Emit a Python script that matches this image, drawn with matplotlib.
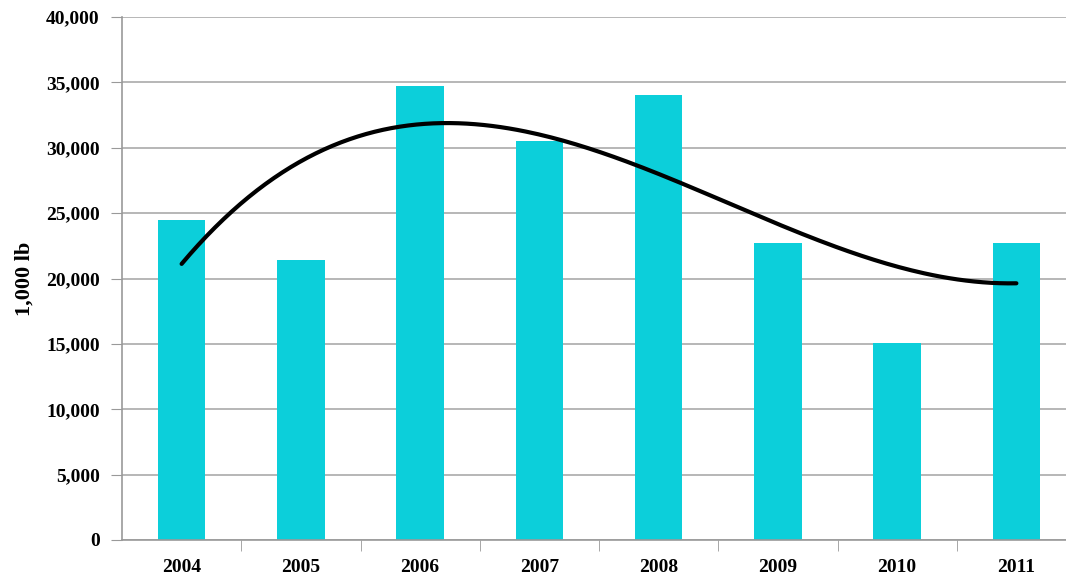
import numpy as np
import matplotlib
matplotlib.use("Agg")
import matplotlib.pyplot as plt

years = ["2004", "2005", "2006", "2007", "2008", "2009", "2010", "2011"]
values = [24500, 21400, 34700, 30500, 34000, 22700, 15100, 22700]

plt.rcParams['font.family'] = ['Liberation Serif', 'DejaVu Serif']

fig = plt.figure(figsize=(10.66, 5.77), dpi=100)
ax = fig.add_axes([122 / 1066, 1 - 540 / 577, (1076 - 122) / 1066, (540 - 17) / 577])

x = np.arange(len(years))
ax.bar(x, values, width=0.4, color="#0ccfda", zorder=2)

# cubic trendline of the bar values
coef = np.polyfit(x, values, 3)
xs = np.linspace(x[0], x[-1], 200)
ax.plot(xs, np.polyval(coef, xs), color="black", lw=3, solid_capstyle="round", zorder=3)

ax.set_xlim(-0.5, len(years) - 0.5)
ax.set_ylim(0, 40000)
ax.set_yticks(np.arange(0, 40001, 5000))
ax.set_yticklabels([f"{v:,}" for v in range(0, 40001, 5000)], fontsize=14, fontweight="bold")
ax.set_xticks(x)
ax.set_xticklabels(years, fontsize=14, fontweight="bold")
ax.tick_params(axis="x", length=0, pad=14)
ax.set_xticks(np.arange(0.5, len(years) - 0.5, 1), minor=True)
ax.tick_params(axis="x", which="minor", length=8, color="#999999", direction="out")
ax.tick_params(axis="y", length=8, color="#999999", pad=8)

ax.grid(axis="y", color="#aaaaaa", lw=1.2, zorder=0)
ax.set_axisbelow(True)
for s in ["top", "right"]:
    ax.spines[s].set_visible(False)
for s in ["left", "bottom"]:
    ax.spines[s].set_color("#999999")
    ax.spines[s].set_linewidth(1.2)

ax.set_ylabel("1,000 lb", fontsize=16, fontweight="bold", labelpad=8)

fig.savefig("out.png", dpi=100)
